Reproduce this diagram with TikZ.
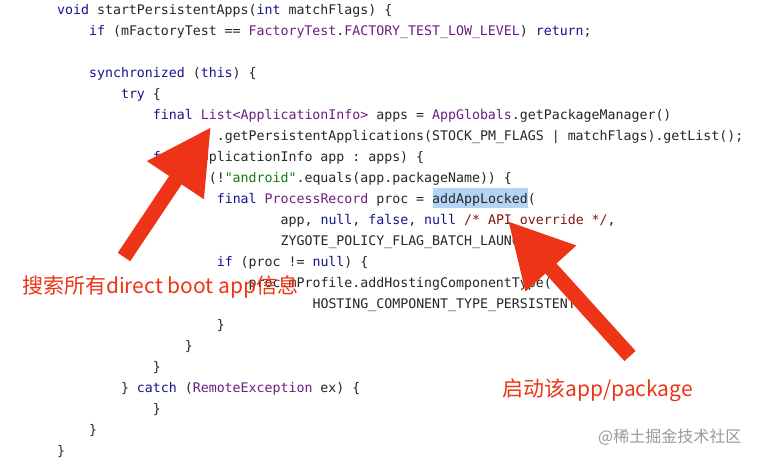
\documentclass[tikz,border=0pt]{standalone}
\usepackage{fontspec}
\setmonofont{DejaVu Sans Mono}
\newfontfamily\cjk{Noto Sans CJK SC}
\usetikzlibrary{arrows.meta}
\definecolor{kw}{RGB}{20,20,140}
\definecolor{cls}{RGB}{110,30,130}
\definecolor{strc}{RGB}{20,120,20}
\definecolor{cmt}{RGB}{130,20,20}
\definecolor{arr}{RGB}{238,52,22}
\definecolor{hl}{RGB}{180,212,245}
\newcommand{\K}[1]{\textcolor{kw}{#1}}
\newcommand{\C}[1]{\textcolor{cls}{#1}}
\begin{document}
\begin{tikzpicture}[x=1pt,y=-1pt,
  code/.style={anchor=base west,inner sep=0pt,font=\ttfamily\fontsize{13.25}{15}\selectfont,text=black!85},
  bigarrow/.style={draw=arr,line width=15pt,-{Triangle[length=64pt,width=64pt]}},
  lbl/.style={text=arr,font=\cjk\fontsize{21}{24}\selectfont,inner sep=0pt,anchor=west}]
\useasboundingbox[fill=white] (0,0) rectangle (769,461);
\fill[hl] (433,188) rectangle (528,208);
\def\L#1#2#3{\node[code] (l#1) at ({57+7.98*#2},{14.5+21*#1}) {#3};}
\L{0}{0}{\K{void} startPersistentApps(\K{int} matchFlags) \{}
\L{1}{4}{\K{if} (mFactoryTest == \C{FactoryTest}.\C{FACTORY\_TEST\_LOW\_LEVEL}) \K{return};}
\L{3}{4}{\K{synchronized} (\K{this}) \{}
\L{4}{8}{\K{try} \{}
\L{5}{12}{\K{final} \C{List<ApplicationInfo>} apps = \C{AppGlobals}.getPackageManager()}
\L{6}{20}{.getPersistentApplications(STOCK\_PM\_FLAGS | matchFlags).getList();}
\L{7}{12}{\K{for} (ApplicationInfo app : apps) \{}
\L{8}{16}{\K{if} (!\textcolor{strc}{"android"}.equals(app.packageName)) \{}
\L{9}{20}{\K{final} \C{ProcessRecord} proc = addAppLocked(}
\L{10}{28}{app, \K{null}, \K{false}, \K{null} \textcolor{cmt}{/* API override */},}
\L{11}{28}{ZYGOTE\_POLICY\_FLAG\_BATCH\_LAUNCH);}
\L{12}{20}{\K{if} (proc != \K{null}) \{}
\L{13}{24}{proc.mProfile.addHostingComponentType(}
\L{14}{32}{HOSTING\_COMPONENT\_TYPE\_PERSISTENT);}
\L{15}{20}{\}}
\L{16}{16}{\}}
\L{17}{12}{\}}
\L{18}{8}{\} \K{catch} (\C{RemoteException} ex) \{}
\L{19}{12}{\}}
\L{20}{4}{\}}
\L{21}{0}{\}}
\coordinate (t1) at (124,257);
\coordinate (h1) at (211,127);
\coordinate (t2) at (630,356);
\coordinate (h2) at (508,221);
\draw[bigarrow] (t1) -- (h1);
\draw[bigarrow] (t2) -- (h2);
\node[lbl] (a1) at (22,287) {搜索所有direct boot app信息};
\node[lbl] (a2) at (502,390) {启动该app/package};
\node[inner sep=0pt,anchor=west,text=black!40,font=\cjk\fontsize{16}{18}\selectfont] (wm) at (598,437) {@稀土掘金技术社区};
\end{tikzpicture}
\end{document}
